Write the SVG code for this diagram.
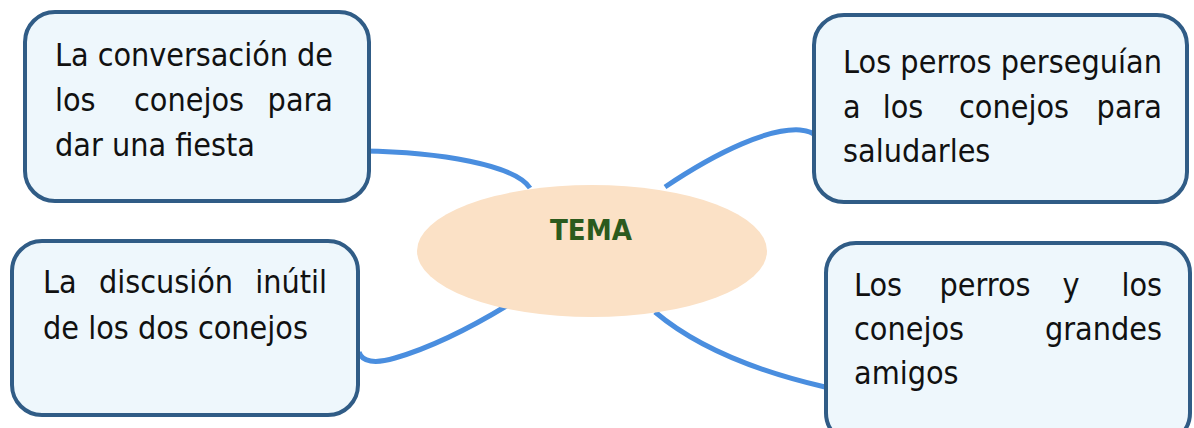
<svg xmlns="http://www.w3.org/2000/svg" width="1194" height="428" viewBox="0 0 1194 428">
<style>
.box{fill:#eef7fc;stroke:#305c86;stroke-width:4}
.t{font-family:"DejaVu Sans Condensed","DejaVu Sans",sans-serif;font-size:32px;fill:#111}
.m{text-anchor:middle}
.e{text-anchor:end}
.con{fill:none;stroke:#4a8edf;stroke-width:5;stroke-linecap:butt}
</style>
<rect width="1194" height="428" fill="#ffffff"/>
<g id="connectors">
<path class="con" d="M363,151 C440,152 515,165 530,188"/>
<path class="con" d="M665,187 C720,150 770,128 800,130 C810,131 814,134 815,136"/>
<path class="con" d="M359,352 C362,362 375,364 395,358 C440,345 480,322 508,305"/>
<path class="con" d="M655,312 C700,350 760,372 825,387"/>
</g>
<g id="tema">
<ellipse cx="592" cy="251" rx="175" ry="66" fill="#fbe1c6"/>
<text x="550" y="240" textLength="82" lengthAdjust="spacingAndGlyphs" style="font-family:'DejaVu Sans',sans-serif;font-weight:bold;font-size:28px;fill:#2b5a1d">TEMA</text>
</g>
<g id="node1">
<rect class="box" x="25" y="12" width="344" height="189" rx="30"/>
<text class="t" x="55" y="66" textLength="278" lengthAdjust="spacing">La conversación de</text>
<text class="t" x="55" y="111">los</text>
<text class="t m" x="189" y="111">conejos</text>
<text class="t e" x="333" y="111">para</text>
<text class="t" x="55" y="156">dar una fiesta</text>
</g>
<g id="node2">
<rect class="box" x="12" y="241" width="346" height="174" rx="30"/>
<text class="t" x="43" y="293">La</text>
<text class="t m" x="166" y="293">discusión</text>
<text class="t e" x="327" y="293">inútil</text>
<text class="t" x="43" y="339">de los dos conejos</text>
</g>
<g id="node3">
<rect class="box" x="814" y="15" width="373" height="187" rx="30"/>
<text class="t" x="843" y="73" textLength="319" lengthAdjust="spacing">Los perros perseguían</text>
<text class="t" x="843" y="118">a</text>
<text class="t m" x="903" y="118">los</text>
<text class="t m" x="1014" y="118">conejos</text>
<text class="t e" x="1162" y="118">para</text>
<text class="t" x="843" y="162">saludarles</text>
</g>
<g id="node4">
<rect class="box" x="826" y="243" width="364" height="200" rx="30"/>
<text class="t" x="854" y="296">Los</text>
<text class="t m" x="985" y="296">perros</text>
<text class="t m" x="1071" y="296">y</text>
<text class="t e" x="1162" y="296">los</text>
<text class="t" x="854" y="340">conejos</text>
<text class="t e" x="1162" y="340">grandes</text>
<text class="t" x="854" y="384">amigos</text>
</g>
</svg>
